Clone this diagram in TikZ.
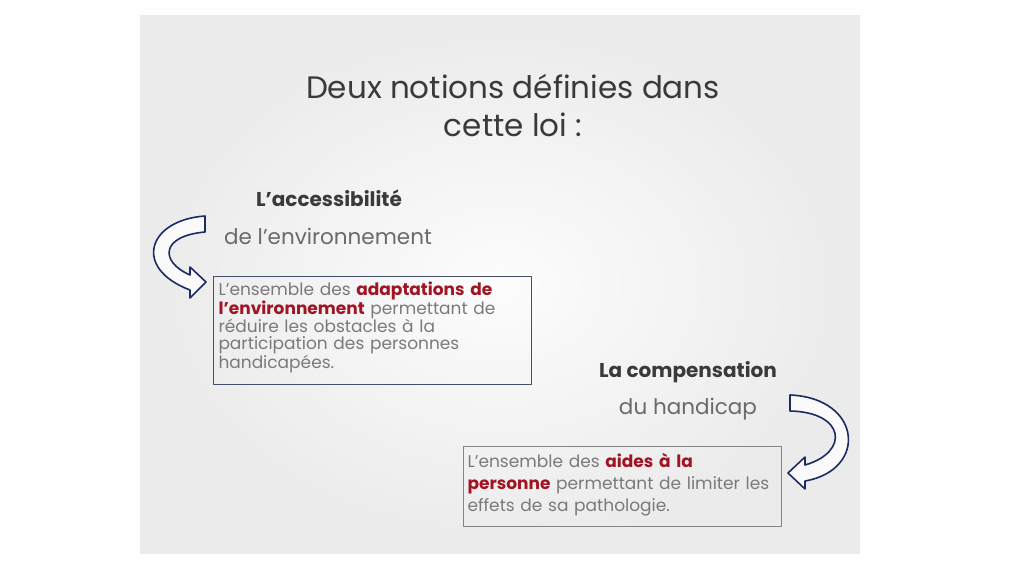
\documentclass[tikz,border=0pt]{standalone}
\usepackage{fontspec}
\setmainfont{Poppins}
\usetikzlibrary{positioning}

\definecolor{titlegray}{HTML}{3A3A3A}
\definecolor{subgray}{HTML}{6A6A6A}
\definecolor{textgray}{HTML}{7A7A7A}
\definecolor{darkred}{HTML}{A01424}
\definecolor{navyline}{HTML}{1C2A66}
\definecolor{boxblue}{HTML}{44506A}
\definecolor{boxgray}{HTML}{858585}

\newcommand{\hl}[1]{\textbf{\textcolor{darkred}{#1}}}

\begin{document}
\begin{tikzpicture}[line cap=round,line join=round,x=1pt,y=-1pt,
    title/.style={font=\fontsize{31}{38}\selectfont,text=titlegray,align=center},
    heading/.style={font=\fontsize{20}{24}\selectfont\bfseries,text=titlegray},
    subheading/.style={font=\fontsize{21.5}{25}\selectfont,text=subgray},
    defbox/.style={draw,line width=1pt,align=left,anchor=north west,inner sep=5pt,text=textgray},
    bentarrow/.style={draw=navyline,fill=white!96!gray,line width=1.6pt}]
  \useasboundingbox (0,0) rectangle (1024,576);
  % slide background
  \shade[inner color=white!98!gray,outer color=white!84!gray] (140,15) rectangle (860,553);
  % title
  \node[title] (titre) at (513,106) {Deux notions définies dans\\cette loi :};
  % left part
  \node[heading] (acces) at (329,198) {L’accessibilité};
  \node[subheading] (env) at (328,236) {de l’environnement};
  \node[defbox,draw=boxblue,text width=308pt,minimum height=101pt,
    font=\fontsize{17}{17}\selectfont] (boxacces) at (213,276)
    {L’ensemble des \hl{adaptations de}\\\hl{l’environnement} permettant de\\réduire les obstacles à la\\participation des personnes\\handicapées.\vspace{6pt}};
  \draw[bentarrow] (205,216) .. controls (148,220) and (132,268) .. (190,290)
    -- (190,298) -- (206,282) -- (190,267) -- (190,275)
    .. controls (160,262) and (160,236) .. (205,232) -- cycle;
  % right part
  \node[heading] (compens) at (688,372) {La compensation};
  \node[subheading] (handi) at (688,409) {du handicap};
  \node[defbox,draw=boxgray,text width=310pt,minimum height=80pt,inner sep=4pt,
    font=\fontsize{17}{22}\selectfont] (boxcomp) at (463,446)
    {L’ensemble des \hl{aides à la}\\\hl{personne} permettant de limiter les\\effets de sa pathologie.\vspace{3pt}};
  \draw[bentarrow] (790,395) .. controls (862,398) and (868,470) .. (805,481)
    -- (805,489) -- (788,473) -- (805,457) -- (805,465)
    .. controls (850,452) and (845,412) .. (790,411) -- cycle;
\end{tikzpicture}
\end{document}
